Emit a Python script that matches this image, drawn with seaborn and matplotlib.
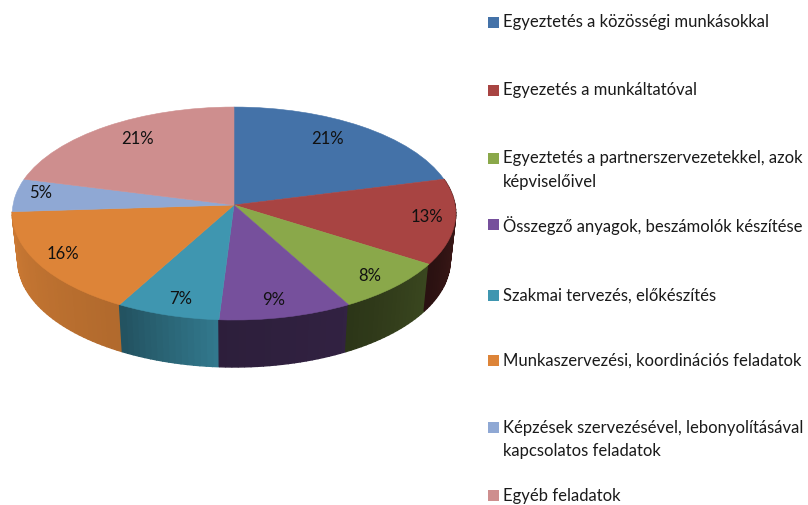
import numpy as np
import matplotlib
matplotlib.use("Agg")
import matplotlib.pyplot as plt
from matplotlib.patches import Rectangle
from matplotlib.transforms import Transform
import seaborn as sns

categories = [
    "Egyeztetés a közösségi munkásokkal",
    "Egyezetés a munkáltatóval",
    "Egyeztetés a partnerszervezetekkel, azok\nképviselőivel",
    "Összegző anyagok, beszámolók készítése",
    "Szakmai tervezés, előkészítés",
    "Munkaszervezési, koordinációs feladatok",
    "Képzések szervezésével, lebonyolításával\nkapcsolatos feladatok",
    "Egyéb feladatok",
]
values = [21, 13, 8, 9, 7, 16, 5, 21]
colors = ["#4472a8", "#a84442", "#8aa84a", "#76509c", "#3f96b0", "#dd8438", "#8fa8d4", "#ce8e8e"]

# how dark the side wall gets at the start / end of each slice
side_start = [0.4, 0.45, 0.42, 0.42, 0.80, 0.80, 0.9, 0.9]
side_end = [0.4, 0.25, 0.32, 0.38, 0.55, 0.92, 0.9, 0.9]

# layout, in pixels
label_xy = [(327, 139), (427, 217), (370, 276), (274, 300), (181, 299), (63, 254), (41, 193), (138, 139)]
legend_y = [22, 90, 158, 224, 295, 360, 427, 495]

CX, CY, RX, RY, PERSP = 234, 205, 221, 105.8, 0.08
DEPTH, SHRINK = 47, 0.975


def tilt(x, y):
    d = 1 + PERSP * y
    return CX + RX * x / d, CY - RY * y / d


class Tilt(Transform):
    input_dims = 2
    output_dims = 2

    def transform_non_affine(self, xy):
        xy = np.asarray(xy)
        return np.column_stack(tilt(xy[:, 0], xy[:, 1]))


sns.set_theme(style="white")
plt.rcParams["font.family"] = ["Lato", "DejaVu Sans"]

fig = plt.figure(figsize=(8.08, 5.05), dpi=100)
ax = fig.add_axes([0, 0, 1, 1])

wedges, _, pct = ax.pie(values, colors=colors, startangle=90, counterclock=False,
                        autopct="%d%%", frame=True, textprops={"fontsize": 12, "color": "#111111"})
ax.set_aspect("auto")
ax.set_xlim(0, 808)
ax.set_ylim(505, 0)
ax.set_axis_off()

for w, c in zip(wedges, colors):
    w.set_transform(Tilt() + ax.transData)
    w.set_edgecolor(c)
    w.set_linewidth(0.4)
    w.set_zorder(5)

for t, xy in zip(pct, label_xy):
    t.set_position(xy)
    t.set_zorder(6)

# side wall, thin strips along the front rim
edges = np.cumsum([0] + values) / sum(values) * 360
for i, c in enumerate(colors):
    # slices that sit fully at the back have no visible wall
    if edges[i + 1] < 90 or edges[i] > 265:
        continue
    n = max(int((edges[i + 1] - edges[i]) / 1.5), 2)
    ang = np.linspace(edges[i], edges[i + 1], n + 1)
    shade = np.linspace(side_start[i], side_end[i], n)
    for k in range(n):
        a = np.radians(90 - ang[k:k + 2])
        xt, yt = tilt(np.cos(a), np.sin(a))
        xb = CX + (xt - CX) * SHRINK
        yb = yt + DEPTH
        rgb = np.array(matplotlib.colors.to_rgb(c)) * shade[k]
        ax.fill(np.r_[xt, xb[::-1]], np.r_[yt, yb[::-1]], color=rgb, lw=1, zorder=2 + k * 0.001)

# legend
for name, y, c in zip(categories, legend_y, colors):
    ax.add_patch(Rectangle((488, y - 5.5), 11, 11, color=c, lw=0))
    ax.text(503, y - 7.5, name, fontsize=12, color="#1a1a1a", va="top", ha="left", linespacing=1.55)

fig.savefig("out.png", dpi=100)
